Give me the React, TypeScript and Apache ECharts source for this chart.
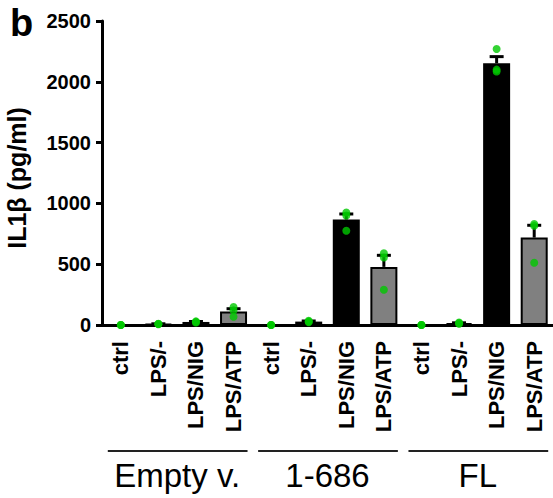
import React, { useEffect, useRef } from "react";
import * as echarts from "echarts";

const categories = [
  "ctrl", "LPS/-", "LPS/NIG", "LPS/ATP",
  "ctrl", "LPS/-", "LPS/NIG", "LPS/ATP",
  "ctrl", "LPS/-", "LPS/NIG", "LPS/ATP",
];
const groups = ["Empty v.", "1-686", "FL"];
const means = [0, 8, 25, 112, 0, 28, 867, 478, 0, 15, 2152, 719];
const sems = [0, 2, 4, 22, 0, 5, 46, 95, 0, 3, 55, 101];
const points: number[][] = [
  [0, 0, 0],
  [6, 8, 10],
  [20, 25, 30],
  [148, 120, 68],
  [0, 0, 0],
  [22, 28, 35],
  [925, 900, 775],
  [590, 555, 290],
  [0, 0, 0],
  [10, 15, 20],
  [2270, 2100, 2085],
  [830, 815, 512],
];
const yTicks = { min: 0, max: 2500, interval: 500 };

const FONT = "Liberation Sans";

export default function App() {
  const ref = useRef<HTMLDivElement>(null);
  useEffect(() => {
    if (!ref.current) return;
    const chart = echarts.init(ref.current, null, { renderer: "svg" });
    const scatterData: number[][] = [];
    points.forEach((arr, i) => arr.forEach((v) => scatterData.push([i, v])));
    chart.setOption({
      animation: false,
      grid: { left: 102, width: 456, top: 21, height: 304 },
      xAxis: {
        type: "category",
        data: categories,
        axisLine: { lineStyle: { color: "#000", width: 3 } },
        axisTick: { alignWithLabel: true, length: 8, lineStyle: { color: "#000", width: 3 } },
        axisLabel: {
          rotate: 90,
          interval: 0,
          margin: 16,
          color: "#000",
          fontFamily: FONT,
          fontWeight: "bold",
          fontSize: 22,
        },
      },
      yAxis: {
        type: "value",
        min: yTicks.min,
        max: yTicks.max,
        interval: yTicks.interval,
        splitLine: { show: false },
        axisLine: { show: true, lineStyle: { color: "#000", width: 3 } },
        axisTick: { show: true, length: 6, lineStyle: { color: "#000", width: 3 } },
        axisLabel: {
          margin: 11,
          color: "#000",
          fontFamily: FONT,
          fontWeight: "bold",
          fontSize: 20,
          formatter: (v: number) => String(v),
        },
      },
      series: [
        {
          type: "bar",
          data: means,
          barWidth: 27,
          itemStyle: {
            color: (p: any) => (p.name === "LPS/ATP" ? "#808080" : "#000000"),
            borderColor: "#000",
            borderWidth: 2,
          },
          z: 2,
        },
        {
          type: "custom",
          data: means.map((m, i) => [i, m, sems[i]]),
          encode: { x: 0, y: 1 },
          z: 3,
          renderItem: (params: any, api: any) => {
            const x = api.value(0);
            const m = api.value(1);
            const s = api.value(2);
            if (!s) return null;
            const base = api.coord([x, m]);
            const top = api.coord([x, m + s]);
            return {
              type: "group",
              children: [
                {
                  type: "line",
                  shape: { x1: top[0], y1: base[1], x2: top[0], y2: top[1] },
                  style: { stroke: "#000", lineWidth: 3 },
                },
                {
                  type: "line",
                  shape: { x1: top[0] - 7, y1: top[1], x2: top[0] + 7, y2: top[1] },
                  style: { stroke: "#000", lineWidth: 3 },
                },
              ],
            };
          },
        },
        {
          type: "scatter",
          data: scatterData,
          symbolSize: 8,
          itemStyle: { color: "#00c800" },
          z: 4,
        },
      ],
    });

    const graphics: any[] = [
      {
        type: "text",
        left: 10,
        top: 4,
        style: { text: "b", fontFamily: FONT, fontWeight: "bold", fontSize: 38, fill: "#000" },
      },
      {
        type: "text",
        x: 17,
        y: 178,
        rotation: Math.PI / 2,
        style: {
          text: "IL1β (pg/ml)",
          fontFamily: FONT,
          fontWeight: "bold",
          fontSize: 25,
          fill: "#000",
          align: "center",
          verticalAlign: "middle",
        },
      },
    ];
    groups.forEach((g, gi) => {
      const a = chart.convertToPixel({ xAxisIndex: 0 }, 4 * gi) as number;
      const b = chart.convertToPixel({ xAxisIndex: 0 }, 4 * gi + 3) as number;
      graphics.push({
        type: "line",
        shape: { x1: a - 19 + 6, y1: 451, x2: b + 19 - 5, y2: 451 },
        style: { stroke: "#222", lineWidth: 2 },
      });
      graphics.push({
        type: "text",
        x: (a + b) / 2,
        y: 475,
        style: {
          text: g,
          fontFamily: FONT,
          fontSize: 33,
          fill: "#000",
          align: "center",
          verticalAlign: "middle",
        },
      });
    });
    chart.setOption({ graphic: graphics });
    return () => chart.dispose();
  }, []);
  return (
    <div
      ref={ref}
      style={{ position: "fixed", left: 0, top: 0, width: 553, height: 498, background: "#fff" }}
    />
  );
}
